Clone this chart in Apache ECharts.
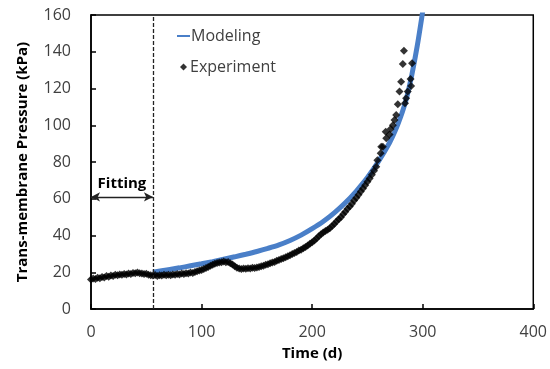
<!DOCTYPE html>
<html>
<head>
<meta charset="utf-8">
<script src="https://cdn.jsdelivr.net/npm/echarts@6/dist/echarts.min.js"></script>
<style>
  html, body { margin: 0; padding: 0; background: #fff; }
  #chart { width: 550px; height: 369px; }
</style>
</head>
<body>
<div id="chart"></div>
<script>
// Trans-membrane pressure vs time: model curve and measured points.
const modelTime = [56, 70, 80, 90, 100, 110, 120, 130, 140, 150, 160, 170, 180, 190, 200,
  210, 220, 230, 240, 250, 260, 270, 275, 280, 285, 290, 295, 300, 304];
const modelPressure = [20, 21.4, 22.4, 23.5, 24.6, 25.8, 27.1, 28.4, 29.8, 31.3, 33, 34.9, 37.3, 40.2, 43.7,
  47.6, 52.3, 57.8, 64.2, 71.5, 80.3, 90.5, 96.8, 104.5, 114, 127, 143, 162, 178];

const expTime = [0, 2, 4, 6, 8, 10, 12, 14, 16, 18, 20, 22, 24, 26, 28, 30, 32, 34, 36, 38,
  40, 42, 44, 46, 48, 50, 52, 54, 56, 58, 60, 62, 64, 66, 68, 70, 72, 74, 76, 78,
  80, 82, 84, 86, 88, 90, 92, 94, 96, 98, 100, 102, 104, 106, 108, 110, 112, 114, 116, 118,
  120, 122, 124, 126, 128, 130, 132, 134, 136, 138, 140, 142, 144, 146, 148, 150, 152, 154, 156, 158,
  160, 162, 164, 166, 168, 170, 172, 174, 176, 178, 180, 182, 184, 186, 188, 190, 192, 194, 196, 198,
  200, 202, 204, 206, 208, 210, 212, 214, 216, 218, 220, 222, 224, 226, 228, 230, 232, 234, 236, 238,
  240, 242, 244, 246, 248, 250, 252, 254, 256,
  258, 259, 262, 262.5, 264, 266.5, 267, 270, 271, 273, 274.5, 276, 277.5, 279, 280.5, 282, 283,
  284, 285, 286.5, 289, 289.5, 290.4];
const expPressure = [16.0, 16.6, 16.3, 17.0, 16.8, 17.4, 17.2, 17.9, 17.6, 18.2, 18.0, 18.6, 18.3, 18.8, 18.6, 19.1, 18.8, 19.3, 19.0, 19.6,
  19.4, 19.8, 19.5, 19.3, 19.0, 19.2, 18.7, 18.4, 18.2, 18.5, 18.0, 18.4, 18.2, 18.7, 18.4, 18.6, 18.3, 18.8, 18.6, 19.0,
  18.8, 19.3, 19.1, 19.5, 19.3, 19.8, 19.6, 20.2, 20.5, 21.0, 21.2, 21.8, 22.3, 22.9, 23.6, 24.1, 24.6, 25.0, 25.3, 25.5,
  25.8, 25.4, 25.6, 24.9, 24.2, 23.2, 22.4, 22.0, 21.8, 22.1, 21.9, 22.2, 22.0, 22.4, 22.3, 22.6, 22.9, 23.2, 23.6, 24.1,
  24.3, 24.9, 25.3, 25.6, 26.2, 26.6, 27.2, 27.6, 28.1, 28.7, 29.3, 29.9, 30.5, 31.0, 31.8, 32.3, 33.0, 33.8, 34.6, 35.5,
  36.3, 37.3, 38.4, 39.6, 40.7, 41.6, 42.4, 43.1, 44.0, 45.2, 46.3, 47.6, 48.8, 50.0, 51.6, 52.9, 54.5, 55.8, 57.3, 59.0,
  60.6, 62.2, 63.9, 65.6, 67.4, 69.3, 71.0, 73.0, 75.2,
  77.4, 81, 84.7, 88.3, 88.3, 96.5, 92.9, 95, 98, 100, 102.9, 105.6, 111.4, 118.3, 123.7, 133.3, 140.6,
  112, 114.7, 118.3, 125.2, 121.4, 133.7];

const fittingEnd = 56;
const fittingLevel = 61;

const xTicks = [0, 400, 100];   // min, max, step
const yTicks = [0, 160, 20];

const font = 'Open Sans';
const chart = echarts.init(document.getElementById('chart'), null, { renderer: 'canvas' });

chart.setOption({
  animation: false,
  backgroundColor: '#fff',
  textStyle: { fontFamily: font },
  grid: {
    left: 91, right: 16, top: 15, bottom: 60,
    show: true, borderColor: '#000', borderWidth: 1.5
  },
  legend: [
    {
      data: [{ name: 'Modeling', icon: 'rect' }],
      left: 172, top: 23, itemWidth: 13, itemHeight: 2, itemGap: 3,
      textStyle: { fontFamily: font, fontSize: 16, color: '#404040', padding: [0, 0, 0, -4] }
    },
    {
      data: [{ name: 'Experiment', icon: 'diamond' }],
      left: 175, top: 54, itemWidth: 7, itemHeight: 7,
      textStyle: { fontFamily: font, fontSize: 16, color: '#404040', padding: [0, 0, 0, -2] }
    }
  ],
  xAxis: {
    type: 'value',
    min: xTicks[0], max: xTicks[1], interval: xTicks[2],
    name: 'Time (d)', nameLocation: 'middle', nameGap: 37,
    nameTextStyle: { fontFamily: font, fontSize: 15, fontWeight: 'bold', color: '#000' },
    axisLine: { lineStyle: { color: '#000', width: 1.5 } },
    axisTick: { inside: true, length: 5, lineStyle: { color: '#000', width: 1.5 } },
    axisLabel: { fontSize: 16, color: '#404040', margin: 15 },
    splitLine: { show: false }
  },
  yAxis: {
    type: 'value',
    min: yTicks[0], max: yTicks[1], interval: yTicks[2],
    name: 'Trans-membrane Pressure (kPa)', nameLocation: 'middle', nameGap: 61,
    nameTextStyle: { fontFamily: font, fontSize: 15, fontWeight: 'bold', color: '#000' },
    axisLine: { lineStyle: { color: '#000', width: 1.5 } },
    axisTick: { inside: true, length: 5, lineStyle: { color: '#000', width: 1.5 } },
    axisLabel: { fontSize: 16, color: '#404040', margin: 20 },
    splitLine: { show: false }
  },
  series: [
    {
      name: 'Modeling',
      type: 'line',
      data: modelTime.map((t, i) => [t, modelPressure[i]]),
      smooth: 0.3,
      showSymbol: false,
      symbol: 'none',
      clip: true,
      itemStyle: { color: '#4a7fc8' },
      lineStyle: { color: '#4a7fc8', width: 5 },
      z: 2
    },
    {
      name: 'Experiment',
      type: 'scatter',
      symbol: 'diamond',
      symbolSize: 8,
      data: expTime.map((t, i) => [t, expPressure[i]]),
      itemStyle: { color: '#000' },
      z: 3,
      markLine: {
        silent: true,
        animation: false,
        data: [
          [
            { coord: [fittingEnd, yTicks[0]], symbol: 'none' },
            { coord: [fittingEnd, yTicks[1]], symbol: 'none' }
          ],
          [
            { coord: [0, fittingLevel], symbol: 'arrow', symbolSize: [7, 9],
              lineStyle: { type: 'solid', width: 1.3 } },
            { coord: [fittingEnd, fittingLevel], symbol: 'arrow', symbolSize: [7, 9],
              lineStyle: { type: 'solid', width: 1.3 },
              label: { show: true } }
          ]
        ],
        lineStyle: { color: '#222', type: [4, 2], width: 1.3 },
        label: {
          show: false,
          formatter: (p) => p.dataIndex === 1 ? 'Fitting' : '',
          position: 'insideMiddleTop',
          distance: 6,
          fontFamily: font, fontSize: 15, fontWeight: 'bold', color: '#000'
        }
      }
    }
  ]
});
</script>
</body>
</html>
